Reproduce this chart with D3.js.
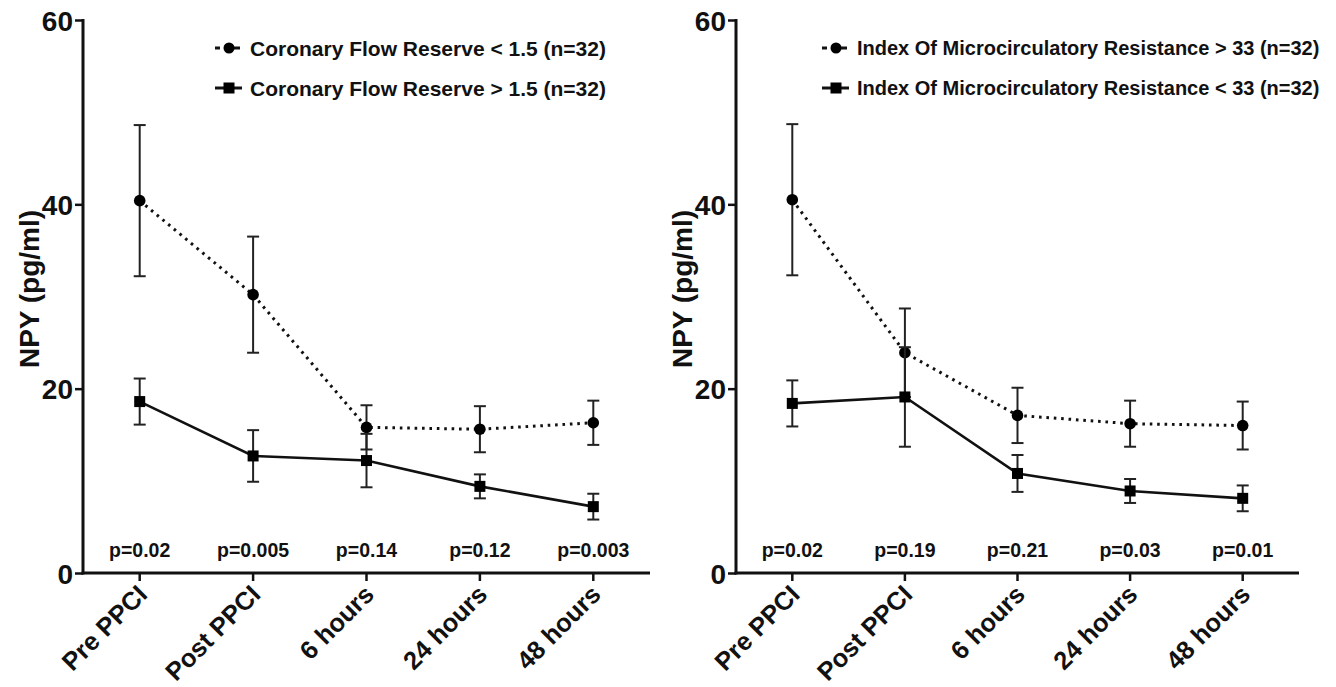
<!DOCTYPE html>
<html><head><meta charset="utf-8">
<script src="https://cdn.jsdelivr.net/npm/d3@7"></script>
<style>
body{margin:0;background:#fff}
svg text{font-family:"Liberation Sans",Arial,Helvetica,sans-serif;font-weight:bold;fill:#111}
</style>
</head><body>
<svg id="c" width="1336" height="687"></svg>
<script>
const categories = ["Pre PPCI","Post PPCI","6 hours","24 hours","48 hours"];
const yTicks = [0,20,40,60];
const yLabel = "NPY (pg/ml)";

// Left panel: Coronary Flow Reserve
const cfrLowMean  = [40.4, 30.2, 15.8, 15.6, 16.3];
const cfrLowErr   = [8.2, 6.3, 2.4, 2.5, 2.4];
const cfrHighMean = [18.6, 12.7, 12.2, 9.4, 7.2];
const cfrHighErr  = [2.5, 2.8, 2.9, 1.3, 1.4];
const cfrP = ["p=0.02","p=0.005","p=0.14","p=0.12","p=0.003"];
const cfrLegend = ["Coronary Flow Reserve < 1.5 (n=32)","Coronary Flow Reserve > 1.5 (n=32)"];

// Right panel: Index Of Microcirculatory Resistance
const imrHighMean = [40.5, 23.9, 17.1, 16.2, 16.0];
const imrHighErr  = [8.2, 4.8, 3.0, 2.5, 2.6];
const imrLowMean  = [18.4, 19.1, 10.8, 8.9, 8.1];
const imrLowErr   = [2.5, 5.4, 2.0, 1.3, 1.4];
const imrP = ["p=0.02","p=0.19","p=0.21","p=0.03","p=0.01"];
const imrLegend = ["Index Of Microcirculatory Resistance > 33 (n=32)","Index Of Microcirculatory Resistance < 33 (n=32)"];

const svg = d3.select("#c");
const y = d3.scaleLinear().domain([0,60]).range([573,20]);

function panel(o){
  const g = svg.append("g");
  const x = d3.scaleBand().domain(categories).range([o.x0, o.x1]).padding(0);
  const cx = c => x(c) + x.bandwidth()/2;

  // y axis
  const ya = g.append("g").attr("transform",`translate(${o.x0},0)`)
    .call(d3.axisLeft(y).tickValues(yTicks).tickSize(8).tickPadding(2).tickFormat(d3.format("d")));
  ya.select(".domain").remove();
  ya.selectAll(".tick line").attr("stroke","#111").attr("stroke-width",2.5);
  ya.selectAll(".tick text").attr("font-size",28).attr("dy","0.36em");
  g.append("line").attr("x1",o.x0).attr("x2",o.x0).attr("y1",y(60)-1).attr("y2",y(0)+1.5)
    .attr("stroke","#111").attr("stroke-width",3);

  // x axis
  const xa = g.append("g").attr("transform",`translate(0,${y(0)})`)
    .call(d3.axisBottom(x).tickSize(8).tickSizeOuter(0));
  xa.select(".domain").remove();
  xa.selectAll(".tick line").attr("stroke","#111").attr("stroke-width",2.5);
  xa.selectAll(".tick text").attr("font-size",25.5)
    .attr("text-anchor","end").attr("dy",0).attr("y",0)
    .attr("transform","translate(9,23) rotate(-45)");
  g.append("line").attr("x1",o.x0-1.5).attr("x2",o.x1).attr("y1",y(0)).attr("y2",y(0))
    .attr("stroke","#111").attr("stroke-width",3);

  // y title
  g.append("text").attr("transform",`translate(${o.titleX},${o.titleY}) rotate(-90)`)
    .attr("text-anchor","middle").attr("font-size",28).text(yLabel);

  // p values
  g.selectAll("text.p").data(o.p).join("text").attr("class","p")
    .attr("x",(d,i)=>cx(categories[i])).attr("y",557)
    .attr("text-anchor","middle").attr("font-size",19.5).text(d=>d);

  const line = d3.line().x((d,i)=>cx(categories[i])).y(d=>y(d));

  function series(mean, err, shape, dashed){
    g.append("path").datum(mean).attr("d",line).attr("fill","none").attr("stroke","#111")
      .attr("stroke-width",dashed?3:2.6)
      .attr("stroke-dasharray",dashed?"2.6,4.8":null);
    const eb = g.append("g");
    mean.forEach((m,i)=>{
      const X = cx(categories[i]);
      eb.append("line").attr("x1",X).attr("x2",X).attr("y1",y(m+err[i])).attr("y2",y(m-err[i]))
        .attr("stroke","#222").attr("stroke-width",2);
      [m+err[i], m-err[i]].forEach(v=>{
        eb.append("line").attr("x1",X-6).attr("x2",X+6).attr("y1",y(v)).attr("y2",y(v))
          .attr("stroke","#222").attr("stroke-width",2);
      });
    });
    const mk = g.append("g");
    mean.forEach((m,i)=>{
      const X = cx(categories[i]);
      if(shape==="circle") mk.append("circle").attr("cx",X).attr("cy",y(m)).attr("r",5.8).attr("fill","#000");
      else mk.append("rect").attr("x",X-5.5).attr("y",y(m)-5.5).attr("width",11).attr("height",11).attr("fill","#000");
    });
  }
  series(o.s1m, o.s1e, "circle", true);
  series(o.s2m, o.s2e, "square", false);

  // legend
  const lg = g.append("g");
  const ly = [48, 88];
  lg.append("line").attr("x1",o.lx-14).attr("x2",o.lx-9).attr("y1",ly[0]).attr("y2",ly[0]).attr("stroke","#111").attr("stroke-width",3);
  lg.append("line").attr("x1",o.lx+4).attr("x2",o.lx+11).attr("y1",ly[0]).attr("y2",ly[0]).attr("stroke","#111").attr("stroke-width",3);
  lg.append("circle").attr("cx",o.lx).attr("cy",ly[0]).attr("r",5.5).attr("fill","#000");
  lg.append("line").attr("x1",o.lx-14).attr("x2",o.lx+13).attr("y1",ly[1]).attr("y2",ly[1]).attr("stroke","#111").attr("stroke-width",3);
  lg.append("rect").attr("x",o.lx-5.5).attr("y",ly[1]-5.5).attr("width",11).attr("height",11).attr("fill","#000");
  o.legend.forEach((t,i)=>{
    lg.append("text").attr("x",o.lx+21).attr("y",ly[i]).attr("dy","0.36em").attr("font-size",o.lfs).text(t);
  });
}

panel({x0:83, x1:650, titleX:39, titleY:289, lx:229, lfs:21,
  s1m:cfrLowMean, s1e:cfrLowErr, s2m:cfrHighMean, s2e:cfrHighErr, p:cfrP, legend:cfrLegend});
panel({x0:736, x1:1299, titleX:692, titleY:289, lx:836, lfs:20,
  s1m:imrHighMean, s1e:imrHighErr, s2m:imrLowMean, s2e:imrLowErr, p:imrP, legend:imrLegend});
</script>
</body></html>
